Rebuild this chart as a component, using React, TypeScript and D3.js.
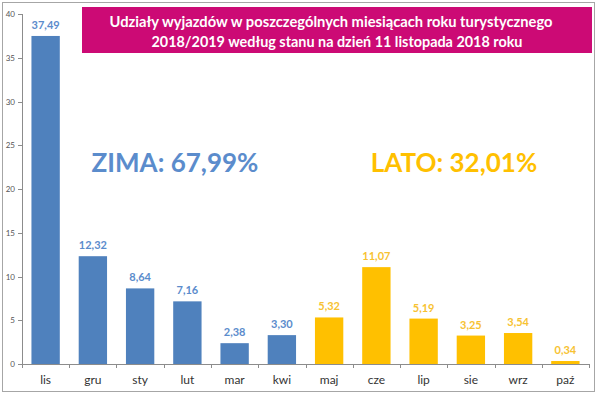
import { scaleBand, scaleLinear, range } from "d3"

const months = ["lis", "gru", "sty", "lut", "mar", "kwi", "maj", "cze", "lip", "sie", "wrz", "paź"]
const shares = [37.49, 12.32, 8.64, 7.16, 2.38, 3.30, 5.32, 11.07, 5.19, 3.25, 3.54, 0.34]
const seasons = ["zima", "zima", "zima", "zima", "zima", "zima", "lato", "lato", "lato", "lato", "lato", "lato"]
const yTicks = [0, 5, 10, 15, 20, 25, 30, 35, 40]
const titleLines = [
    "Udziały wyjazdów w poszczególnych miesiącach roku turystycznego",
    "2018/2019 według stanu na dzień 11 listopada 2018 roku",
]
const summary = [
    { label: "ZIMA: 67,99%", season: "zima", x: 175 },
    { label: "LATO: 32,01%", season: "lato", x: 454 },
]

const barColor = { zima: "#4f81bd", lato: "#ffc000" }
const labelColor = { zima: "#5b8ccc", lato: "#f7c232" }

const fmt = (v: number) => v.toFixed(2).replace(".", ",")

const App = () => {
    const left = 22
    const right = 589
    const top = 14
    const bottom = 364

    const x = scaleBand().domain(months).range([left, right]).paddingInner(0.4).paddingOuter(0.2)
    const y = scaleLinear().domain([0, 40]).range([bottom, top])
    const step = x.step()
    const x0 = x(months[0]) - x.paddingOuter() * step

    return (
        <svg width={600} height={394} style={{ position: "absolute", left: 0, top: 0, background: "#fff" }}
            fontFamily="Lato, 'Open Sans', sans-serif">
            <rect x={2.5} y={2.5} width={592} height={389} fill="#fff" stroke="#a6a6a6" />

            <rect x={82} y={7} width={510} height={46} fill="#cc0a75" />
            <text x={331} y={27} textAnchor="middle" fill="#fff" fontWeight="bold" fontSize={14.6}
                textLength={443} lengthAdjust="spacingAndGlyphs">{titleLines[0]}</text>
            <text x={337} y={47} textAnchor="middle" fill="#fff" fontWeight="bold" fontSize={14.6}
                textLength={371} lengthAdjust="spacingAndGlyphs">{titleLines[1]}</text>

            {/* y axis */}
            <line x1={left + 0.5} x2={left + 0.5} y1={top} y2={bottom} stroke="#8c8c8c" />
            {yTicks.map(t => (
                <g key={t} transform={`translate(0,${Math.round(y(t)) + 0.5})`}>
                    <line x1={left - 4} x2={left} stroke="#8c8c8c" />
                    <text x={left - 7} dy="0.32em" textAnchor="end" fontSize={8} fill="#555">{t}</text>
                </g>
            ))}

            {/* x axis */}
            <line x1={left} x2={right} y1={bottom + 0.5} y2={bottom + 0.5} stroke="#8c8c8c" />
            {range(months.length + 1).map(i => (
                <line key={i} x1={Math.round(x0 + i * step) + 0.5} x2={Math.round(x0 + i * step) + 0.5}
                    y1={bottom} y2={bottom + 4} stroke="#8c8c8c" />
            ))}

            {months.map((m, i) => (
                <g key={m}>
                    <rect x={x(m)} y={y(shares[i])} width={x.bandwidth()} height={bottom - y(shares[i])}
                        fill={barColor[seasons[i]]} />
                    <text x={x(m) + x.bandwidth() / 2} y={y(shares[i]) - 7} textAnchor="middle"
                        fontSize={11} fontWeight="bold" fill={labelColor[seasons[i]]}>{fmt(shares[i])}</text>
                    <text x={x(m) + x.bandwidth() / 2} y={384} textAnchor="middle" fontSize={12} fill="#333">{m}</text>
                </g>
            ))}

            {summary.map(s => (
                <text key={s.label} x={s.x} y={172} textAnchor="middle" fontSize={26} fontWeight="bold"
                    fill={s.season === "zima" ? "#5b8ccc" : "#ffc000"}>{s.label}</text>
            ))}
        </svg>
    )
}

export default App
